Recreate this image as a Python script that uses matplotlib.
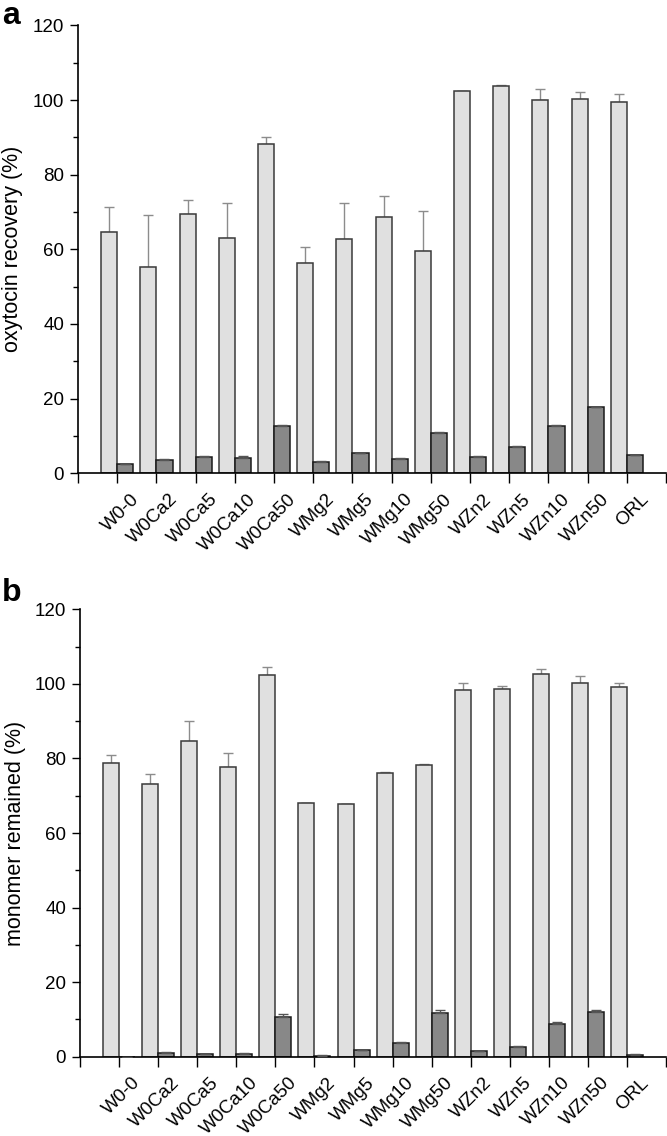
import numpy as np
import matplotlib
matplotlib.use('Agg')
import matplotlib.pyplot as plt
import matplotlib.transforms as mtransforms
from matplotlib.ticker import MultipleLocator

plt.rcParams['font.family'] = ['Liberation Sans', 'DejaVu Sans']

# sample names
samples = ['W0-0', 'W0Ca2', 'W0Ca5', 'W0Ca10', 'W0Ca50', 'WMg2', 'WMg5',
           'WMg10', 'WMg50', 'WZn2', 'WZn5', 'WZn10', 'WZn50', 'ORL']

# panel a: oxytocin recovery (%)
recovery_light = [64.6, 55.4, 69.4, 63.0, 88.1, 56.3, 62.7, 68.8, 59.5,
                  102.3, 103.8, 99.9, 100.4, 99.4]
recovery_light_err = [6.7, 13.8, 3.7, 9.5, 2.0, 4.4, 9.6, 5.4, 10.9,
                      0.2, 0.2, 3.0, 1.7, 2.1]
recovery_dark = [2.4, 3.6, 4.4, 4.0, 12.6, 3.1, 5.4, 3.9, 10.9,
                 4.4, 7.0, 12.7, 17.7, 4.8]
recovery_dark_err = [0.1, 0.1, 0.3, 0.6, 0.3, 0.1, 0.1, 0.1, 0.2,
                     0.1, 0.2, 0.2, 0.1, 0.1]

# panel b: monomer remained (%)
monomer_light = [78.9, 73.2, 84.8, 77.6, 102.3, 68.0, 67.7, 76.0, 78.2,
                 98.4, 98.7, 102.7, 100.3, 99.1]
monomer_light_err = [2.1, 2.5, 5.2, 3.8, 2.2, 0.1, 0.2, 0.3, 0.2,
                     1.8, 0.7, 1.2, 1.9, 1.1]
monomer_dark = [0.0, 1.1, 0.7, 0.8, 10.6, 0.3, 1.7, 3.7, 11.7,
                1.4, 2.6, 8.9, 12.0, 0.4]
monomer_dark_err = [0.0, 0.2, 0.1, 0.1, 0.8, 0.1, 0.1, 0.2, 0.8,
                    0.1, 0.2, 0.3, 0.5, 0.3]

fig = plt.figure(figsize=(6.67, 11.36), dpi=100)

x = np.arange(1, len(samples) + 1)
w = 0.41


def panel(ax, light, light_err, dark, dark_err, ylabel):
    ax.bar(x - w / 2, light, w, color='#e0e0e0', edgecolor='#3a3a3a',
           linewidth=1.1, zorder=2)
    ax.errorbar(x - w / 2, light, yerr=[np.zeros(len(light)), light_err],
                fmt='none', ecolor='#8c8c8c', elinewidth=1.0, capsize=3.3,
                capthick=1.0, zorder=1)
    ax.bar(x + w / 2, dark, w, color='#888888', edgecolor='#1a1a1a',
           linewidth=1.1, zorder=2)
    ax.errorbar(x + w / 2, dark, yerr=[np.zeros(len(dark)), dark_err],
                fmt='none', ecolor='#555555', elinewidth=1.0, capsize=3.3,
                capthick=1.0, zorder=3)

    ax.set_xlim(0, 15)
    ax.set_ylim(0, 120)
    ax.spines['top'].set_visible(False)
    ax.spines['right'].set_visible(False)
    ax.spines['left'].set_linewidth(1.2)
    ax.spines['bottom'].set_linewidth(1.2)

    ax.yaxis.set_major_locator(MultipleLocator(20))
    ax.yaxis.set_minor_locator(MultipleLocator(10))
    ax.tick_params(axis='y', which='major', length=6, width=1.0,
                   labelsize=13.5, pad=4)
    ax.tick_params(axis='y', which='minor', length=3.6, width=1.0)

    ax.set_xticks(np.arange(0, 16), minor=True)
    ax.set_xticks(x)
    ax.set_xticklabels(samples, rotation=45, ha='right', va='center',
                       rotation_mode='anchor')
    ax.tick_params(axis='x', which='minor', length=7, width=1.0)
    ax.tick_params(axis='x', which='major', length=7, width=1.0,
                   labelsize=13.5, pad=10)
    offset = mtransforms.ScaledTranslation(0.19, 0, fig.dpi_scale_trans)
    for lbl in ax.get_xticklabels():
        lbl.set_transform(lbl.get_transform() + offset)

    ax.set_ylabel(ylabel, fontsize=15.5)
    ax.yaxis.set_label_coords(-0.093, 0.5)


ax_a = fig.add_axes([0.117, 0.5834, 0.8816, 0.3942])
panel(ax_a, recovery_light, recovery_light_err, recovery_dark,
      recovery_dark_err, 'oxytocin recovery (%)')

ax_b = fig.add_axes([0.120, 0.0698, 0.8786, 0.3938])
panel(ax_b, monomer_light, monomer_light_err, monomer_dark,
      monomer_dark_err, 'monomer remained (%)')

fig.text(0.003, 0.999, 'a', fontsize=23, fontweight='bold', va='top')
fig.text(0.003, 0.491, 'b', fontsize=23, fontweight='bold', va='top')

fig.savefig('out.png', dpi=100)
